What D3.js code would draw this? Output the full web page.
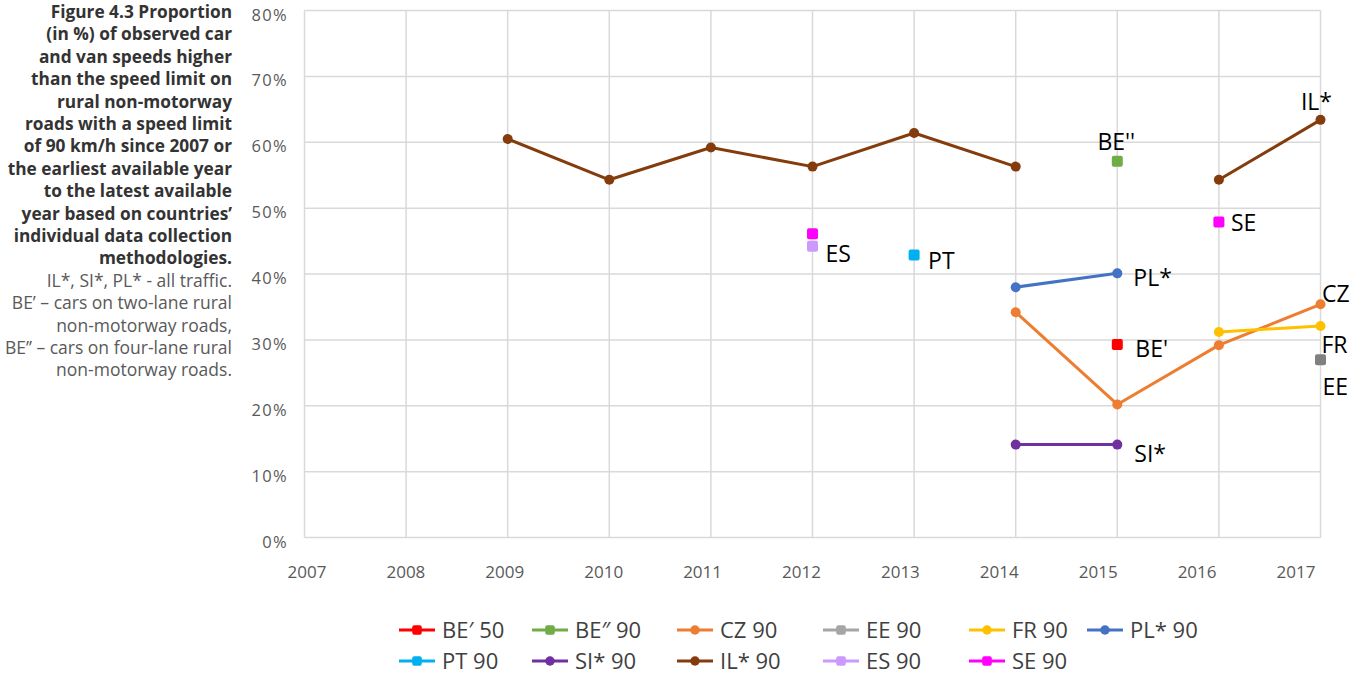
<!DOCTYPE html>
<html>
<head>
<meta charset="utf-8">
<script src="https://cdn.jsdelivr.net/npm/d3@7"></script>
<style>
  body { margin: 0; background: #fff; }
  svg { display: block; }
</style>
</head>
<body>
<svg id="chart" width="1363" height="677"></svg>
<script>
// years on the category axis
const years = ["2007", "2008", "2009", "2010", "2011", "2012", "2013", "2014", "2015", "2016", "2017"];
const yTicks = [0, 10, 20, 30, 40, 50, 60, 70, 80];

// one value per year (null = no data), in %
const bePrime50 = [null, null, null, null, null, null, null, null, 29.3, null, null];
const beDouble90 = [null, null, null, null, null, null, null, null, 57.1, null, null];
const cz90 = [null, null, null, null, null, null, null, 34.2, 20.2, 29.2, 35.4];
const ee90 = [null, null, null, null, null, null, null, null, null, null, 27.0];
const fr90 = [null, null, null, null, null, null, null, null, null, 31.2, 32.1];
const pl90 = [null, null, null, null, null, null, null, 38.0, 40.1, null, null];
const pt90 = [null, null, null, null, null, null, 42.9, null, null, null, null];
const si90 = [null, null, null, null, null, null, null, 14.1, 14.1, null, null];
const il90 = [null, null, 60.5, 54.3, 59.2, 56.3, 61.4, 56.3, null, 54.3, 63.4];
const es90 = [null, null, null, null, null, 44.2, null, null, null, null, null];
const se90 = [null, null, null, null, null, 46.1, null, null, null, 47.9, null];

const seriesNames = ["BE\u2032 50", "BE\u2033 90", "CZ 90", "EE 90", "FR 90", "PL* 90", "PT 90", "SI* 90", "IL* 90", "ES 90", "SE 90"];
const seriesValues = [bePrime50, beDouble90, cz90, ee90, fr90, pl90, pt90, si90, il90, es90, se90];
const seriesColors = ["#FF0000", "#70AD47", "#ED7D31", "#A5A5A5", "#FFC000", "#4472C4", "#00B0F0", "#7030A0", "#843C0C", "#CC99FF", "#FF00FF"];
const seriesMarkers = ["square", "square", "circle", "square", "circle", "circle", "square", "circle", "circle", "square", "square"];

// text callouts next to the points
const callouts = [
  { text: "IL*", series: "IL* 90", year: "2017" },
  { text: "BE''", series: "BE\u2033 90", year: "2015" },
  { text: "SE", series: "SE 90", year: "2016" },
  { text: "ES", series: "ES 90", year: "2012" },
  { text: "PT", series: "PT 90", year: "2013" },
  { text: "PL*", series: "PL* 90", year: "2015" },
  { text: "CZ", series: "CZ 90", year: "2017" },
  { text: "BE'", series: "BE\u2032 50", year: "2015" },
  { text: "FR", series: "FR 90", year: "2017" },
  { text: "EE", series: "EE 90", year: "2017" },
  { text: "SI*", series: "SI* 90", year: "2015" }
];

const titleLines = [
  "Figure 4.3 Proportion",
  "(in %) of observed car",
  "and van speeds higher",
  "than the speed limit on",
  "rural non-motorway",
  "roads with a speed limit",
  "of 90 km/h since 2007 or",
  "the earliest available year",
  "to the latest available",
  "year based on countries\u2019",
  "individual data collection",
  "methodologies."
];
const noteLines = [
  "IL*, SI*, PL* - all traffic.",
  "BE\u2019 \u2013 cars on two-lane rural",
  "non-motorway roads,",
  "BE\u2019\u2019 \u2013 cars on four-lane rural",
  "non-motorway roads."
];

const svg = d3.select("#chart");
const font = "'Open Sans', 'DejaVu Sans', sans-serif";

const x = d3.scalePoint().domain(years).range([304.5, 1320.5]);
const xLabel = d3.scalePoint().domain(years).range([307, 1296]);
const y = d3.scaleLinear().domain([0, 80]).range([537.5, 10.5]);

// gridlines
const grid = svg.append("g").attr("stroke", "#D9D9D9").attr("stroke-width", 1.5);
grid.selectAll(".hgrid")
  .data(yTicks)
  .join("line")
  .attr("x1", x.range()[0])
  .attr("x2", x.range()[1])
  .attr("y1", (d) => y(d))
  .attr("y2", (d) => y(d));
grid.selectAll(".vgrid")
  .data(years)
  .join("line")
  .attr("x1", (d) => x(d))
  .attr("x2", (d) => x(d))
  .attr("y1", y(0))
  .attr("y2", y(80));

// y axis labels
svg.append("g")
  .selectAll("text")
  .data(yTicks)
  .join("text")
  .attr("x", 288)
  .attr("y", (d) => y(d) + 10)
  .attr("text-anchor", "end")
  .attr("font-family", font)
  .attr("font-size", 16.5)
  .attr("letter-spacing", 1.3)
  .attr("fill", "#595959")
  .text((d) => d + "%");

// x axis labels
svg.append("g")
  .selectAll("text")
  .data(years)
  .join("text")
  .attr("x", (d) => xLabel(d))
  .attr("y", 578)
  .attr("text-anchor", "middle")
  .attr("font-family", font)
  .attr("font-size", 17)
  .attr("fill", "#595959")
  .text((d) => d);

function drawMarker(sel, shape, color, cx, cy, size) {
  if (shape === "circle") {
    sel.append("circle")
      .attr("cx", cx)
      .attr("cy", cy)
      .attr("r", size / 2)
      .attr("fill", color);
  } else {
    sel.append("rect")
      .attr("x", cx - size / 2)
      .attr("y", cy - size / 2)
      .attr("width", size)
      .attr("height", size)
      .attr("rx", 2)
      .attr("fill", color);
  }
}

// series
const line = d3.line()
  .defined((d) => d.v !== null)
  .x((d) => x(d.year))
  .y((d) => y(d.v));

seriesNames.forEach((name, i) => {
  const pts = seriesValues[i].map((v, j) => ({ year: years[j], v }));
  const g = svg.append("g");
  g.append("path")
    .datum(pts)
    .attr("d", line)
    .attr("fill", "none")
    .attr("stroke", seriesColors[i])
    .attr("stroke-width", 3)
    .attr("stroke-linejoin", "round");
  const markerColor = name === "EE 90" ? "#808080" : seriesColors[i];
  pts.filter((d) => d.v !== null).forEach((d) => {
    const size = seriesMarkers[i] === "circle" ? 10 : 11;
    drawMarker(g, seriesMarkers[i], markerColor, x(d.year), y(d.v), size);
  });
});

// callouts
const calloutOffsets = {
  "IL*": [-4, -10, "middle"],
  "BE''": [-1, -11, "middle"],
  "SE": [12, 9, "start"],
  "ES": [13, 16, "start"],
  "PT": [14, 14, "start"],
  "PL*": [16, 13, "start"],
  "CZ": [1.5, -2, "start"],
  "BE'": [18, 13, "start"],
  "FR": [1, 27, "start"],
  "EE": [2, 35, "start"],
  "SI*": [17, 17, "start"]
};
callouts.forEach((c) => {
  const si = seriesNames.indexOf(c.series);
  const v = seriesValues[si][years.indexOf(c.year)];
  const off = calloutOffsets[c.text];
  svg.append("text")
    .attr("x", x(c.year) + off[0])
    .attr("y", y(v) + off[1])
    .attr("text-anchor", off[2])
    .attr("font-family", font)
    .attr("font-size", 23)
    .attr("fill", "#000")
    .text(c.text);
});

// legend
const legendCols = [399, 532, 677, 823, 969, 1087];
const legendRows = [630, 661];
seriesNames.forEach((name, i) => {
  const lx = legendCols[i % 6];
  const ly = legendRows[Math.floor(i / 6)];
  const g = svg.append("g");
  g.append("line")
    .attr("x1", lx)
    .attr("x2", lx + 36)
    .attr("y1", ly)
    .attr("y2", ly)
    .attr("stroke", seriesColors[i])
    .attr("stroke-width", 3);
  drawMarker(g, seriesMarkers[i], seriesColors[i], lx + 18, ly, 9.5);
  g.append("text")
    .attr("x", lx + 43)
    .attr("y", ly + 8)
    .attr("font-family", font)
    .attr("font-size", 22)
    .attr("fill", "#404040")
    .text(name);
});

// title block at the left
const title = svg.append("g").attr("font-family", font).attr("text-anchor", "end");
titleLines.forEach((t, i) => {
  title.append("text")
    .attr("x", 232)
    .attr("y", 18 + i * 22.4)
    .attr("font-size", 17.3)
    .attr("font-weight", "bold")
    .attr("fill", "#333333")
    .text(t);
});
noteLines.forEach((t, i) => {
  title.append("text")
    .attr("x", 232)
    .attr("y", 18 + (titleLines.length + i) * 22.4)
    .attr("font-size", 17.5)
    .attr("fill", "#595959")
    .text(t);
});
</script>
</body>
</html>
